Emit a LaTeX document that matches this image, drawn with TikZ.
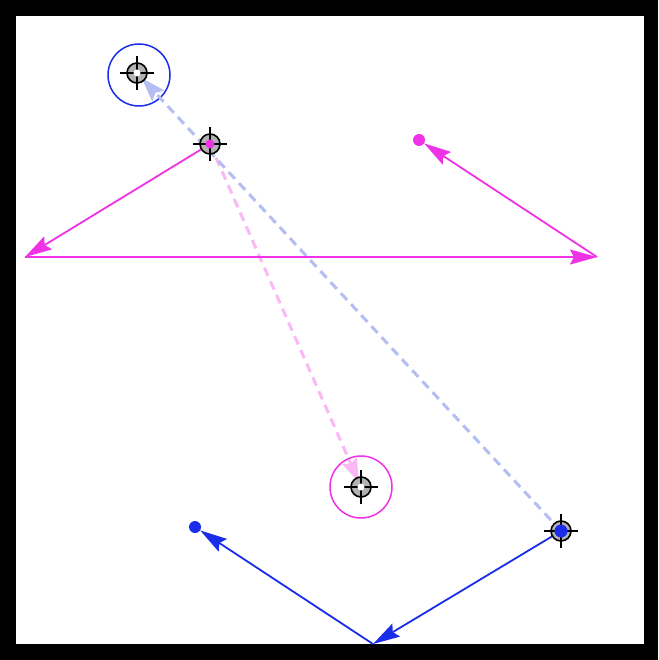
\documentclass[tikz,border=0pt]{standalone}
\usetikzlibrary{arrows.meta,calc}
\definecolor{mag}{RGB}{240,50,230}
\definecolor{blu}{RGB}{25,45,235}
\definecolor{lmag}{RGB}{250,185,245}
\definecolor{lblu}{RGB}{180,190,242}
\tikzset{
  solidarrow/.style={line width=1.8pt,-{Stealth[length=27pt,width=15pt,inset=4pt]}},
  dasharrow/.style={line width=3pt,dash pattern=on 9pt off 6pt,-{Stealth[length=24pt,width=16pt,inset=4pt]}},
  dotmark/.style={circle,inner sep=0pt,minimum size=12pt},
  ring/.style={circle,draw,line width=1.5pt,minimum size=62pt,inner sep=0pt},
}
\newcommand{\tgt}[3]{% position, centre colour, centre size
  \fill[gray!60] #1 circle (10pt);
  \draw[line width=1.6pt] #1 circle (10pt);
  \draw[line width=1.8pt] ($#1+(-17,0)$) -- ($#1+(17,0)$);
  \draw[line width=1.8pt] ($#1+(0,-17)$) -- ($#1+(0,17)$);
  \fill[#2] #1 circle (#3);
}
\begin{document}
\begin{tikzpicture}[x=1pt,y=-1pt]
\useasboundingbox (0,0) rectangle (658,660);
\fill[black] (0,0) rectangle (658,660);
\fill[white] (16,16) rectangle (644,644);
% points
\coordinate (T1) at (137,73);
\coordinate (T2) at (210,144);
\coordinate (T3) at (361,487);
\coordinate (T4) at (561,531);
\coordinate (L) at (25,257);
\coordinate (R) at (597,257);
\coordinate (B) at (373,644);
\node[dotmark,fill=mag] (M) at (419,140) {};
\node[dotmark,fill=blu] (N) at (195,527) {};
\node[ring,draw=blu] (C1) at (139,75) {};
\node[ring,draw=mag] (C2) at (361,487) {};
% dashed
\draw[dasharrow,lmag,shorten >=5pt] (T2) -- (T3);
\draw[dasharrow,lblu,shorten >=7pt] (T4) -- (T1);
% solid
\draw[solidarrow,mag] (T2) -- (L);
\draw[solidarrow,mag] (L) -- (R);
\draw[solidarrow,mag] (R) -- (M);
\draw[solidarrow,blu] (T4) -- (B);
\draw[solidarrow,blu] (B) -- (N);
% targets
\tgt{(T1)}{white}{3.5pt}
\tgt{(T2)}{mag}{4.5pt}
\tgt{(T3)}{white}{3.5pt}
\tgt{(T4)}{blu}{6.5pt}
\end{tikzpicture}
\end{document}
